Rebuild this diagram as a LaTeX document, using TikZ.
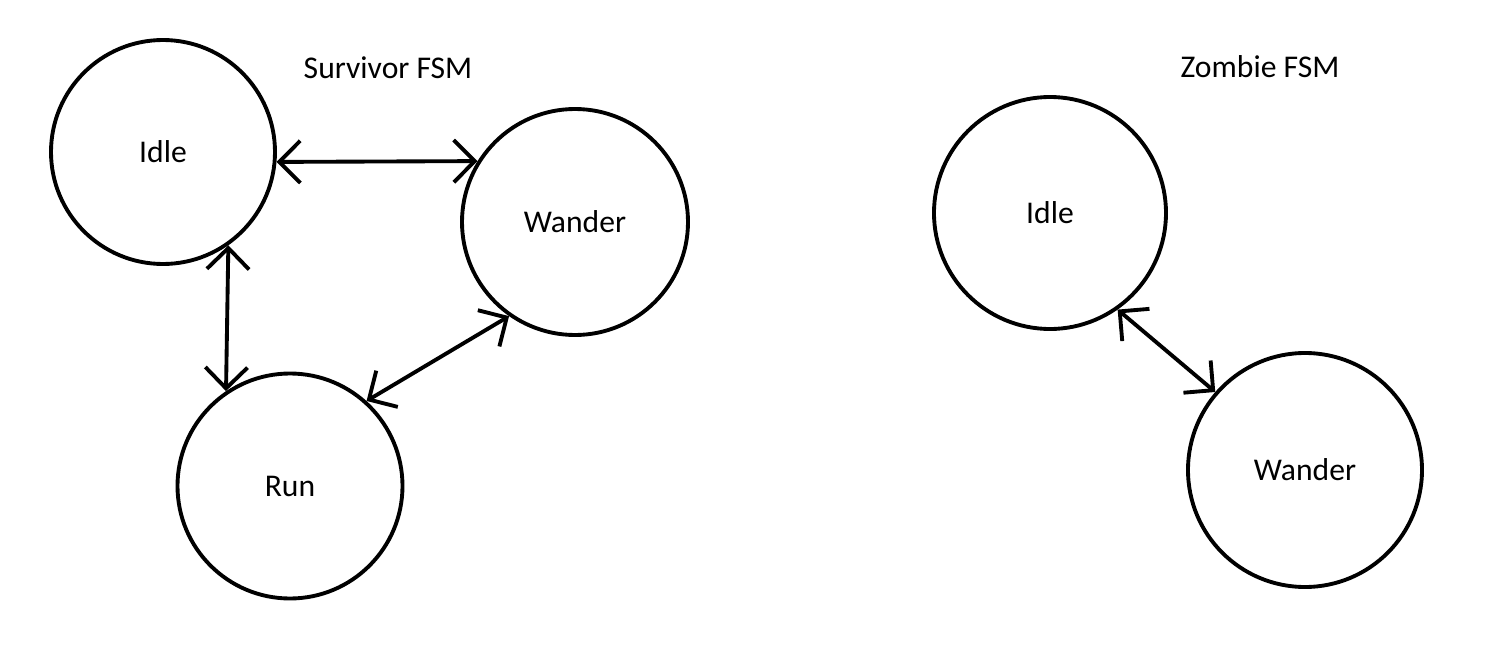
\documentclass[tikz,border=0pt]{standalone}
\usepackage{fontspec}
\setmainfont{Carlito}
\usepackage{tikz}
\usetikzlibrary{arrows.meta}

\tikzset{
  state/.style={shape=circle, draw=black, line width=2.2pt, inner sep=0pt},
  trans/.style={line width=2.2pt, {Straight Barb[length=12pt,width=24pt]}-{Straight Barb[length=12pt,width=24pt]}},
  title/.style={font=\fontsize{18}{22}\selectfont}
}

\begin{document}
\begin{tikzpicture}[font=\fontsize{18}{22}\selectfont]
      \useasboundingbox (0,0) rectangle (29.72,-12.96);

      % Survivor FSM
      \node[title] (SurvTitle) at (7.76,-1.36) {Survivor FSM};
      \node[state, minimum size = 4.48cm] (SIdle) at (3.26,-3.04) {Idle};
      \node[state, minimum size = 4.52cm] (SWander) at (11.50,-4.44) {Wander};
      \node[state, minimum size = 4.50cm] (SRun) at (5.80,-9.72) {Run};

      \path [trans] (SIdle.-5) edge (SWander.148);
      \path [trans] (SIdle.-55) edge (SRun.124);
      \path [trans] (SWander.235) edge (SRun.48);

      % Zombie FSM
      \node[title] (ZombTitle) at (25.20,-1.34) {Zombie FSM};
      \node[state, minimum size = 4.64cm] (ZIdle) at (21.00,-4.26) {Idle};
      \node[state, minimum size = 4.68cm] (ZWander) at (26.10,-9.40) {Wander};

      \path [trans] (ZIdle.-55) edge (ZWander.139);
     \end{tikzpicture}
\end{document}
